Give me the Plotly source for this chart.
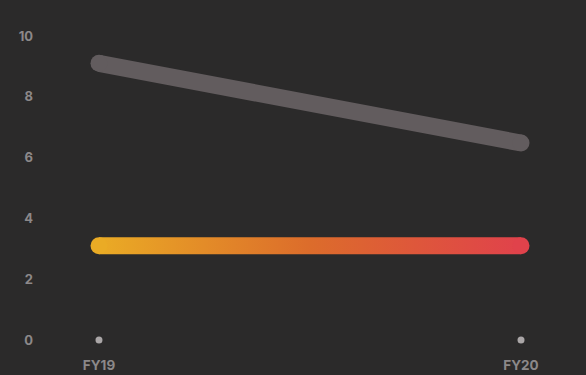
import plotly.graph_objects as go

# ---- data ----
categories = ["FY19", "FY20"]
grey_series = [9.1, 6.48]
gradient_series = [3.1, 3.1]
baseline_dots = [0, 0]
y_tick_values = [0, 2, 4, 6, 8, 10]
y_tick_labels = ["0", "2", "4", "6", "8", "10"]

# ---- style ----
BG = "#2b2a2a"
GREY = "#625c5e"
TICK = "#8c8889"
DOT = "#aaa6a7"
GRAD = [[0.0, "#eaab25"], [0.5, "#dc6c2b"], [1.0, "#e0424b"]]
LINE_PX = 17

W, H = 586, 375
M = dict(l=34, r=26, t=20, b=30)
Y_RANGE = [-0.164, 10.526]
X_RANGE = [-0.154, 1.0924]
plot_h = H - M["t"] - M["b"]
px_per_unit = plot_h / (Y_RANGE[1] - Y_RANGE[0])
half = LINE_PX / 2 / px_per_unit

fig = go.Figure()

# grey line with round caps
fig.add_trace(go.Scatter(
    x=categories, y=grey_series, mode="lines+markers",
    line=dict(color=GREY, width=LINE_PX),
    marker=dict(color=GREY, size=LINE_PX, line=dict(width=0)),
    hoverinfo="skip", showlegend=False))

# gradient band
fig.add_trace(go.Scatter(
    x=[categories[0], categories[1], categories[1], categories[0], categories[0]],
    y=[gradient_series[0] - half, gradient_series[1] - half,
       gradient_series[1] + half, gradient_series[0] + half,
       gradient_series[0] - half],
    mode="lines", line=dict(width=0), fill="toself",
    fillgradient=dict(type="horizontal", colorscale=GRAD),
    hoverinfo="skip", showlegend=False))

# round caps for gradient band
fig.add_trace(go.Scatter(
    x=categories, y=gradient_series, mode="markers",
    marker=dict(color=[GRAD[0][1], GRAD[-1][1]], size=LINE_PX, line=dict(width=0)),
    hoverinfo="skip", showlegend=False))

# baseline dots
fig.add_trace(go.Scatter(
    x=categories, y=baseline_dots, mode="markers",
    marker=dict(color=DOT, size=7, line=dict(width=0)),
    hoverinfo="skip", showlegend=False, cliponaxis=False))

fig.update_layout(
    width=W, height=H, margin=M,
    paper_bgcolor=BG, plot_bgcolor=BG,
    font=dict(family="Inter", color=TICK, size=13),
    xaxis=dict(type="category", range=X_RANGE, showgrid=False, zeroline=False,
               showline=False, ticks="", tickfont=dict(size=13.5, weight="bold"),
               ticklabelstandoff=10, automargin=False),
    yaxis=dict(range=Y_RANGE, showgrid=False, zeroline=False, showline=False,
               tickvals=y_tick_values, ticktext=y_tick_labels, ticks="",
               tickfont=dict(size=13, weight="bold"), automargin=False),
)

fig.write_html("out.html")
